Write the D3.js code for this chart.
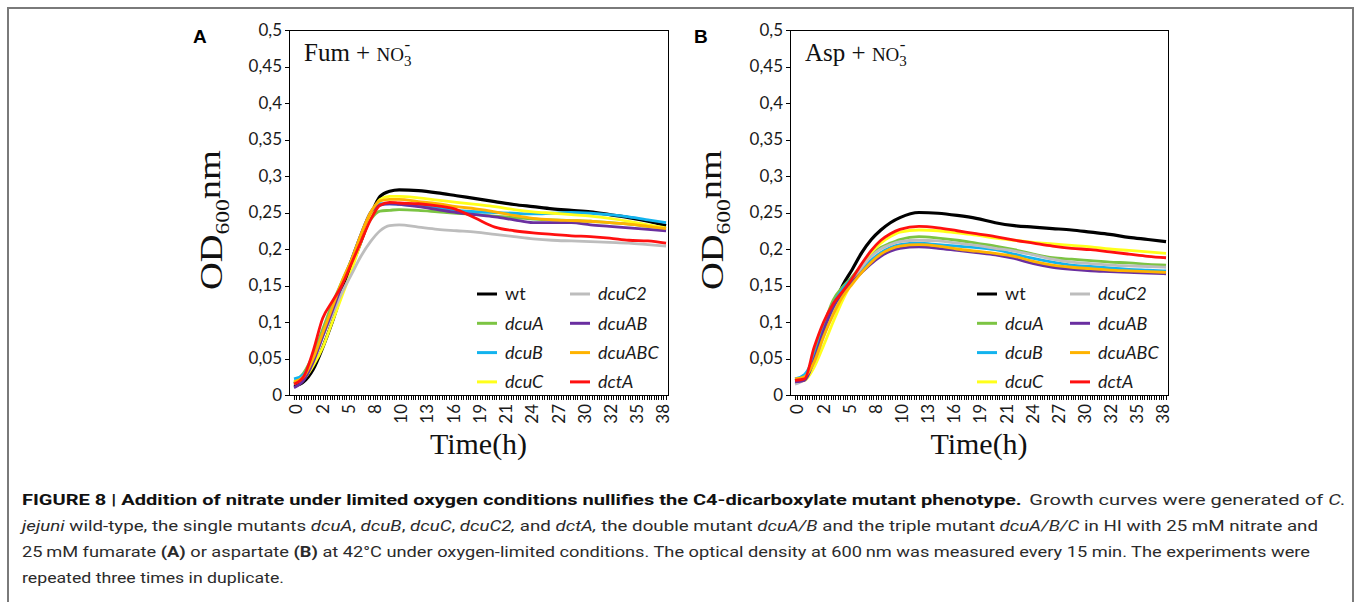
<!DOCTYPE html>
<html>
<head>
<meta charset="utf-8">
<script src="https://cdn.jsdelivr.net/npm/d3@7"></script>
<style>
  body { margin: 0; background: #fff; }
  svg { display: block; }
  .axis text { font-family: Lato, "Open Sans", sans-serif; font-size: 17px; fill: #1a1a1a; }
  .axis path, .axis line { stroke: #000; shape-rendering: crispEdges; }
  .serif { font-family: "Liberation Serif", "DejaVu Serif", serif; fill: #111; }
  .legend text { font-family: Lato, "Open Sans", sans-serif; font-size: 18px; fill: #1a1a1a; }
  .caption { font-family: "Liberation Sans Narrow", Roboto, "Liberation Sans", sans-serif; font-size: 15.5px; fill: #2b2b2b; }
</style>
</head>
<body>
<div id="figure08"></div>
<script>
// sampling times (h)
const times = [0, 1, 2, 3, 4, 5, 6, 7, 8, 9, 10, 11, 13, 15, 17, 19, 21, 23, 25, 27, 29, 31, 33, 35, 37, 38.9];

const seriesNames = ["wt", "dcuA", "dcuB", "dcuC", "dcuC2", "dcuAB", "dcuABC", "dctA"];
const seriesColors = ["#000000", "#7cc443", "#12b3ee", "#ffff1a", "#bdbdbd", "#6a2fa0", "#ffb300", "#ff1010"];

// panel A: fumarate + nitrate
const fumWt     = [0.012, 0.018, 0.035, 0.065, 0.100, 0.140, 0.175, 0.210, 0.245, 0.272, 0.279, 0.281, 0.280, 0.277, 0.273, 0.269, 0.265, 0.261, 0.258, 0.255, 0.253, 0.251, 0.247, 0.243, 0.238, 0.232];
const fumDcuA   = [0.016, 0.030, 0.055, 0.090, 0.125, 0.155, 0.185, 0.215, 0.240, 0.252, 0.253, 0.254, 0.253, 0.251, 0.249, 0.247, 0.245, 0.243, 0.241, 0.240, 0.239, 0.238, 0.236, 0.234, 0.231, 0.228];
const fumDcuB   = [0.022, 0.028, 0.050, 0.085, 0.120, 0.152, 0.185, 0.220, 0.250, 0.262, 0.262, 0.261, 0.259, 0.256, 0.253, 0.251, 0.250, 0.249, 0.248, 0.249, 0.250, 0.249, 0.247, 0.244, 0.240, 0.236];
const fumDcuC   = [0.018, 0.022, 0.040, 0.065, 0.100, 0.135, 0.170, 0.210, 0.245, 0.268, 0.272, 0.272, 0.270, 0.267, 0.264, 0.261, 0.258, 0.254, 0.251, 0.249, 0.247, 0.245, 0.242, 0.238, 0.233, 0.229];
const fumDcuC2  = [0.015, 0.025, 0.045, 0.080, 0.110, 0.140, 0.165, 0.190, 0.210, 0.225, 0.232, 0.233, 0.230, 0.227, 0.225, 0.223, 0.220, 0.217, 0.214, 0.212, 0.211, 0.210, 0.209, 0.208, 0.206, 0.204];
const fumDcuAB  = [0.010, 0.020, 0.045, 0.080, 0.115, 0.150, 0.185, 0.220, 0.250, 0.260, 0.262, 0.261, 0.258, 0.254, 0.250, 0.247, 0.244, 0.240, 0.236, 0.236, 0.236, 0.233, 0.231, 0.229, 0.227, 0.225];
const fumDcuABC = [0.018, 0.025, 0.050, 0.085, 0.120, 0.155, 0.185, 0.220, 0.250, 0.266, 0.268, 0.268, 0.265, 0.262, 0.258, 0.255, 0.251, 0.246, 0.242, 0.240, 0.239, 0.238, 0.236, 0.234, 0.231, 0.228];
const fumDctA   = [0.015, 0.025, 0.060, 0.105, 0.128, 0.150, 0.180, 0.210, 0.240, 0.260, 0.264, 0.263, 0.262, 0.259, 0.254, 0.242, 0.230, 0.225, 0.222, 0.220, 0.218, 0.217, 0.215, 0.212, 0.211, 0.208];

// panel B: aspartate + nitrate
const aspWt     = [0.020, 0.022, 0.045, 0.085, 0.120, 0.150, 0.172, 0.195, 0.213, 0.226, 0.236, 0.243, 0.250, 0.249, 0.246, 0.242, 0.236, 0.232, 0.230, 0.228, 0.226, 0.223, 0.220, 0.216, 0.213, 0.210];
const aspDcuA   = [0.020, 0.025, 0.055, 0.095, 0.130, 0.148, 0.162, 0.178, 0.192, 0.202, 0.208, 0.213, 0.217, 0.215, 0.212, 0.208, 0.204, 0.199, 0.193, 0.188, 0.186, 0.184, 0.182, 0.181, 0.179, 0.178];
const aspDcuB   = [0.022, 0.028, 0.052, 0.090, 0.125, 0.145, 0.160, 0.173, 0.185, 0.195, 0.202, 0.206, 0.208, 0.206, 0.204, 0.202, 0.199, 0.193, 0.187, 0.182, 0.178, 0.176, 0.174, 0.172, 0.171, 0.170];
const aspDcuC   = [0.018, 0.020, 0.038, 0.068, 0.100, 0.130, 0.155, 0.178, 0.195, 0.208, 0.217, 0.223, 0.226, 0.225, 0.222, 0.219, 0.215, 0.212, 0.209, 0.207, 0.205, 0.203, 0.200, 0.198, 0.196, 0.194];
const aspDcuC2  = [0.015, 0.022, 0.045, 0.080, 0.115, 0.140, 0.158, 0.175, 0.190, 0.200, 0.206, 0.210, 0.212, 0.211, 0.208, 0.205, 0.201, 0.197, 0.192, 0.186, 0.182, 0.180, 0.178, 0.177, 0.176, 0.175];
const aspDcuAB  = [0.018, 0.020, 0.048, 0.088, 0.120, 0.140, 0.155, 0.168, 0.180, 0.190, 0.197, 0.201, 0.203, 0.201, 0.198, 0.195, 0.192, 0.187, 0.180, 0.175, 0.172, 0.170, 0.169, 0.168, 0.167, 0.166];
const aspDcuABC = [0.022, 0.025, 0.045, 0.080, 0.110, 0.135, 0.152, 0.168, 0.182, 0.193, 0.200, 0.204, 0.206, 0.204, 0.200, 0.197, 0.194, 0.190, 0.183, 0.178, 0.175, 0.173, 0.171, 0.170, 0.169, 0.168];
const aspDctA   = [0.020, 0.022, 0.065, 0.100, 0.125, 0.142, 0.160, 0.180, 0.198, 0.212, 0.221, 0.227, 0.231, 0.229, 0.225, 0.221, 0.217, 0.212, 0.208, 0.204, 0.201, 0.199, 0.196, 0.193, 0.190, 0.188];

// axis ticks
const yTickValues = [0, 0.05, 0.1, 0.15, 0.2, 0.25, 0.3, 0.35, 0.4, 0.45, 0.5];
const xTickLabels = ["0", "2", "5", "8", "10", "13", "16", "19", "21", "24", "27", "30", "32", "35", "38"];
const LABEL_STEP = 2.74; // hours between labelled categories (11 readings)
const READINGS_PER_LABEL = 11;

const W = 1357;
const H = 602;

const svg = d3
  .select("#figure08")
  .append("svg")
  .attr("width", W)
  .attr("height", H);

// outer frame of the figure
svg
  .append("rect")
  .attr("x", 8)
  .attr("y", 8)
  .attr("width", 1345)
  .attr("height", 700)
  .attr("fill", "none")
  .attr("stroke", "#7a7a7a")
  .attr("stroke-width", 2);

const panels = [
  {
    letter: "A",
    substrate: "Fum",
    left: 289,
    top: 30,
    width: 379,
    height: 365,
    legendX: 477,
    series: [fumWt, fumDcuA, fumDcuB, fumDcuC, fumDcuC2, fumDcuAB, fumDcuABC, fumDctA],
  },
  {
    letter: "B",
    substrate: "Asp",
    left: 790,
    top: 30,
    width: 378,
    height: 365,
    legendX: 977,
    series: [aspWt, aspDcuA, aspDcuB, aspDcuC, aspDcuC2, aspDcuAB, aspDcuABC, aspDctA],
  },
];

panels.forEach(drawPanel);

function drawPanel(p) {
  const g = svg.append("g").attr("transform", `translate(${p.left},${p.top})`);

  const x = d3.scaleLinear().domain([0, 39]).range([5, p.width - 1]);
  const y = d3.scaleLinear().domain([0, 0.5]).range([p.height, 0]);

  // plot frame
  g.append("rect")
    .attr("width", p.width)
    .attr("height", p.height)
    .attr("fill", "none")
    .attr("stroke", "#000")
    .attr("stroke-width", 1)
    .attr("shape-rendering", "crispEdges");

  // y axis
  g.append("g")
    .attr("class", "axis")
    .call(
      d3
        .axisLeft(y)
        .tickValues(yTickValues)
        .tickSize(4)
        .tickSizeOuter(0)
        .tickPadding(3)
        .tickFormat((d) => String(d).replace(".", ","))
    );

  // x axis: one small tick per reading
  const minorTicks = d3.range(0, 39, LABEL_STEP / READINGS_PER_LABEL);
  g.append("g")
    .attr("class", "axis")
    .attr("transform", `translate(0,${p.height})`)
    .call(d3.axisBottom(x).tickValues(minorTicks).tickSize(5).tickSizeOuter(0).tickFormat(""));

  // x axis labels, rotated
  const labelAxis = g
    .append("g")
    .attr("class", "axis")
    .attr("transform", `translate(0,${p.height})`)
    .call(
      d3
        .axisBottom(x)
        .tickValues(xTickLabels.map((d, i) => i * LABEL_STEP))
        .tickSize(0)
        .tickFormat((d, i) => xTickLabels[i])
    );
  labelAxis.select(".domain").remove();
  labelAxis
    .selectAll("text")
    .attr("transform", "rotate(-90)")
    .attr("text-anchor", "end")
    .attr("x", -9)
    .attr("y", 2)
    .attr("dy", "0.35em");

  // growth curves
  const line = d3
    .line()
    .x((d, i) => x(times[i]))
    .y((d) => y(d))
    .curve(d3.curveMonotoneX);

  g.selectAll("path.curve")
    .data(p.series)
    .join("path")
    .attr("class", "curve")
    .attr("d", line)
    .attr("fill", "none")
    .attr("stroke", (d, i) => seriesColors[i])
    .attr("stroke-width", (d, i) => (i === 0 ? 3.2 : 2.8))
    .attr("stroke-linejoin", "round");

  // medium label
  const title = g
    .append("text")
    .attr("class", "serif")
    .attr("x", 15)
    .attr("y", 31)
    .style("font-size", "25px");
  title.append("tspan").text(`${p.substrate} + `);
  title.append("tspan").style("font-size", "19px").text("NO");
  title.append("tspan").style("font-size", "15px").attr("dy", 5).text("3");
  title.append("tspan").style("font-size", "17px").attr("dx", -7).attr("dy", -16).text("-");

  // legend
  const legend = svg.append("g").attr("class", "legend");
  seriesNames.forEach((name, i) => {
    const lx = p.legendX + Math.floor(i / 4) * 93;
    const ly = 294 + (i % 4) * 29.3;
    legend
      .append("line")
      .attr("x1", lx)
      .attr("x2", lx + 20)
      .attr("y1", ly)
      .attr("y2", ly)
      .attr("stroke", seriesColors[i])
      .attr("stroke-width", 3);
    legend
      .append("text")
      .attr("x", lx + 28)
      .attr("y", ly)
      .attr("dy", "0.35em")
      .style("font-style", name === "wt" ? "normal" : "italic")
      .text(name);
  });

  // panel letter
  svg
    .append("text")
    .attr("x", p.left - 96)
    .attr("y", 43)
    .style("font-family", "'Liberation Sans', Arial, sans-serif")
    .style("font-weight", "bold")
    .style("font-size", "19px")
    .text(p.letter);

  // axis titles
  svg
    .append("text")
    .attr("class", "serif")
    .attr("x", p.left + p.width / 2)
    .attr("y", 454)
    .attr("text-anchor", "middle")
    .style("font-size", "30px")
    .text("Time(h)");

  const yTitle = svg
    .append("text")
    .attr("class", "serif")
    .attr("transform", `translate(${p.left - 67},220) rotate(-90)`)
    .attr("text-anchor", "middle")
    .attr("textLength", 140)
    .attr("lengthAdjust", "spacingAndGlyphs")
    .style("font-size", "31px");
  yTitle.append("tspan").text("OD");
  yTitle.append("tspan").style("font-size", "19px").attr("dy", 7).text("600");
  yTitle.append("tspan").attr("dy", -9).text("nm");
}

// caption
const caption = svg.append("g").attr("class", "caption");

const cap1 = caption.append("text").attr("x", 22).attr("y", 505).attr("textLength", 1324).attr("lengthAdjust", "spacingAndGlyphs");
cap1.append("tspan").style("font-weight", "bold").style("fill", "#111")
  .text("FIGURE 8 | Addition of nitrate under limited oxygen conditions nullifies the C4-dicarboxylate mutant phenotype.");
cap1.append("tspan").attr("dx", 6).text("Growth curves were generated of ");
cap1.append("tspan").style("font-style", "italic").text("C.");

const cap2 = caption.append("text").attr("x", 22).attr("y", 531).attr("textLength", 1296).attr("lengthAdjust", "spacingAndGlyphs");
[
  ["jejuni", true], [" wild-type, the single mutants ", false], ["dcuA", true], [", ", false], ["dcuB", true],
  [", ", false], ["dcuC", true], [", ", false], ["dcuC2,", true], [" and ", false], ["dctA,", true],
  [" the double mutant ", false], ["dcuA/B", true], [" and the triple mutant ", false], ["dcuA/B/C", true],
  [" in HI with 25 mM nitrate and", false],
].forEach(([t, it]) => cap2.append("tspan").style("font-style", it ? "italic" : "normal").text(t));

const cap3 = caption.append("text").attr("x", 22).attr("y", 557).attr("textLength", 1288).attr("lengthAdjust", "spacingAndGlyphs");
[
  ["25\u2009mM fumarate ", false], ["(A)", true], [" or aspartate ", false], ["(B)", true],
  [" at 42\u00b0C under oxygen-limited conditions. The optical density at 600\u2009nm was measured every 15 min. The experiments were", false],
].forEach(([t, bold]) => cap3.append("tspan").style("font-weight", bold ? "bold" : "normal").text(t));

caption.append("text").attr("x", 22).attr("y", 583).attr("textLength", 262).attr("lengthAdjust", "spacingAndGlyphs")
  .text("repeated three times in duplicate.");
</script>
</body>
</html>
